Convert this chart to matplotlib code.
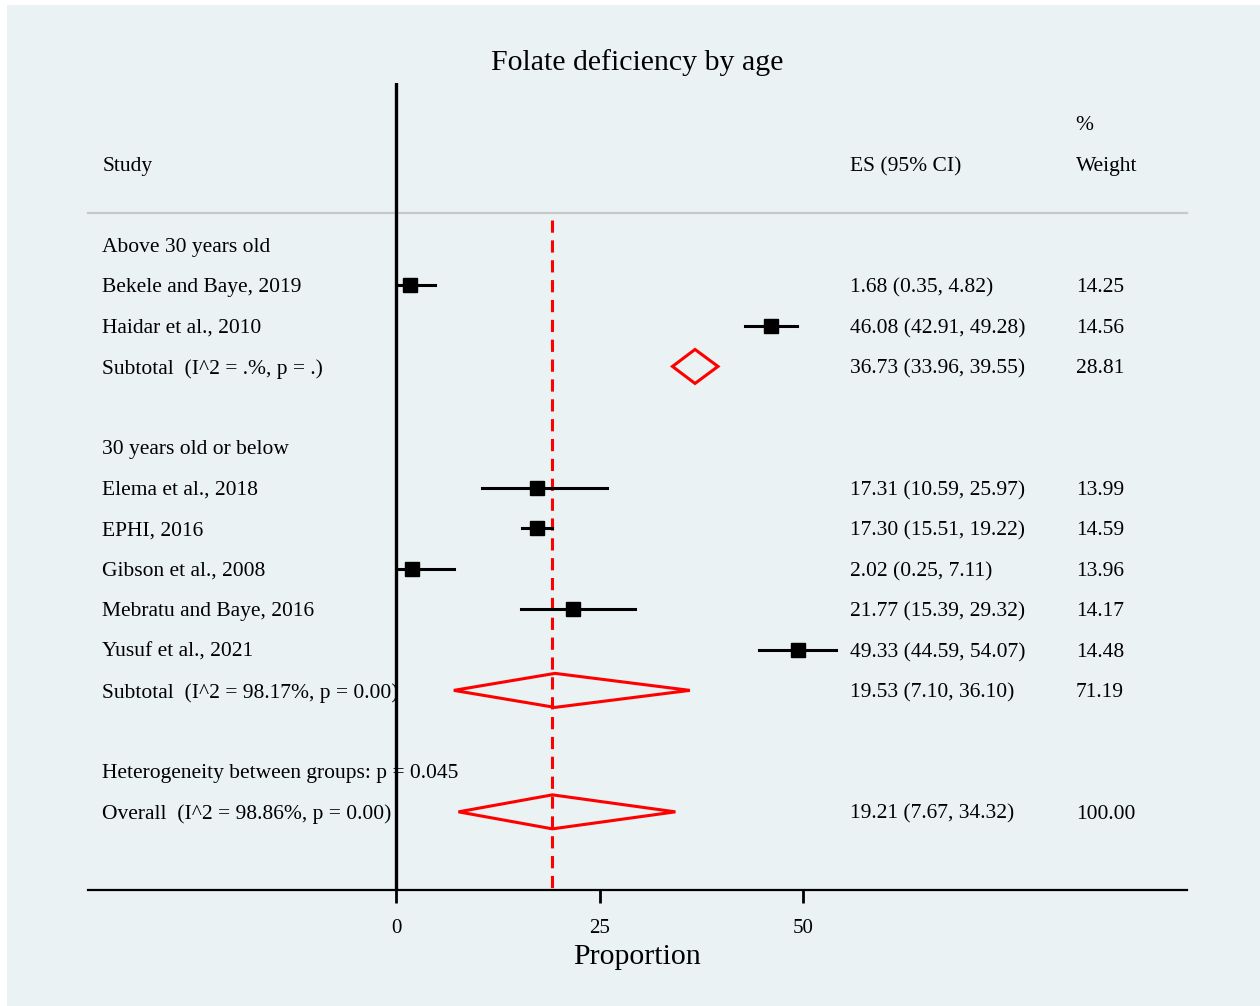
import matplotlib
matplotlib.use("Agg")
import matplotlib.pyplot as plt
from matplotlib.patches import Rectangle, Polygon

# data
group_titles = ["Above 30 years old", "30 years old or below"]
studies = [["Bekele and Baye, 2019", "Haidar et al., 2010"],
           ["Elema et al., 2018", "EPHI, 2016", "Gibson et al., 2008",
            "Mebratu and Baye, 2016", "Yusuf et al., 2021"]]
es = [[1.68, 46.08], [17.31, 17.30, 2.02, 21.77, 49.33]]
lo = [[0.35, 42.91], [10.59, 15.51, 0.25, 15.39, 44.59]]
hi = [[4.82, 49.28], [25.97, 19.22, 7.11, 29.32, 54.07]]
weights = [[14.25, 14.56], [13.99, 14.59, 13.96, 14.17, 14.48]]

sub_labels = ["Subtotal  (I^2 = .%, p = .)", "Subtotal  (I^2 = 98.17%, p = 0.00)"]
sub_es = [36.73, 19.53]
sub_lo = [33.96, 7.10]
sub_hi = [39.55, 36.10]
sub_w = [28.81, 71.19]

het_label = "Heterogeneity between groups: p = 0.045"
overall_label = "Overall  (I^2 = 98.86%, p = 0.00)"
overall_es, overall_lo, overall_hi, overall_w = 19.21, 7.67, 34.32, 100.00

xticks = [0, 25, 50]

bg = "#eaf2f3"
plt.rcParams['font.family'] = ['Liberation Serif', 'DejaVu Serif']

fig = plt.figure(figsize=(12.6, 10.06), dpi=100)
fig.patches.append(Rectangle((7 / 1260, 0), 1, 1 - 5 / 1006, transform=fig.transFigure,
                             facecolor=bg, edgecolor="none", zorder=-10))

ax = fig.add_axes([88 / 1260, (1006 - 890) / 1006, (1187 - 88) / 1260, (890 - 83) / 1006])
ax.patch.set_alpha(0)
ax.set_xlim(-37.84, 97.17)
ax.set_ylim(15.93, -4.0)
for s in ["top", "right", "left"]:
    ax.spines[s].set_visible(False)
ax.spines["bottom"].set_linewidth(1.6)
ax.set_yticks([])
ax.set_xticks(xticks)
ax.set_xticklabels([str(t) for t in xticks], fontsize=15)
ax.tick_params(axis="x", length=9, width=2, pad=12)
ax.set_xlabel("Proportion", fontsize=21.5, labelpad=4)
ax.set_title("Folate deficiency by age", fontsize=21.5, pad=9)

x_lab = -36.1
x_es = 55.8
x_w = 83.5
fs = 15.5
tkw = dict(fontsize=fs, va="center_baseline")

# header
ax.text(x_lab, -2, "Study", **tkw)
ax.text(x_es, -2, "ES (95% CI)", **tkw)
ax.text(x_w, -3, "%", **tkw)
ax.text(x_w, -2, "Weight", **tkw)
ax.plot([-37.84, 97.17], [-0.8, -0.8], color="#c8c8c8", lw=1.6, clip_on=False)

def diamond(y, c, l, h):
    ax.add_patch(Polygon([(l, y), (c, y - 0.42), (h, y), (c, y + 0.42)], closed=True,
                         fill=False, edgecolor="red", lw=2.2, zorder=3))

row = 0
for g in range(len(group_titles)):
    ax.text(x_lab, row, group_titles[g], **tkw)
    row += 1
    for i in range(len(studies[g])):
        ax.text(x_lab, row, studies[g][i], **tkw)
        ax.plot([lo[g][i], hi[g][i]], [row, row], color="black", lw=2.2, zorder=3)
        ax.plot(es[g][i], row, marker="s", color="black", markersize=10, zorder=4)
        ax.text(x_es, row, "%.2f (%.2f, %.2f)" % (es[g][i], lo[g][i], hi[g][i]), **tkw)
        ax.text(x_w, row, "%.2f" % weights[g][i], **tkw)
        row += 1
    ax.text(x_lab, row, sub_labels[g], **tkw)
    diamond(row, sub_es[g], sub_lo[g], sub_hi[g])
    ax.text(x_es, row, "%.2f (%.2f, %.2f)" % (sub_es[g], sub_lo[g], sub_hi[g]), **tkw)
    ax.text(x_w, row, "%.2f" % sub_w[g], **tkw)
    row += 2

ax.text(x_lab, row, het_label, **tkw)
row += 1
ax.text(x_lab, row, overall_label, **tkw)
diamond(row, overall_es, overall_lo, overall_hi)
ax.text(x_es, row, "%.2f (%.2f, %.2f)" % (overall_es, overall_lo, overall_hi), **tkw)
ax.text(x_w, row, "%.2f" % overall_w, **tkw)

# reference lines
ax.axvline(0, color="black", lw=2.4, zorder=5)
ax.plot([overall_es, overall_es], [-0.62, 15.93], color="red", lw=2.2, ls=(0, (4, 2.5)), zorder=2)

fig.savefig("out.png", dpi=100, facecolor="white")
